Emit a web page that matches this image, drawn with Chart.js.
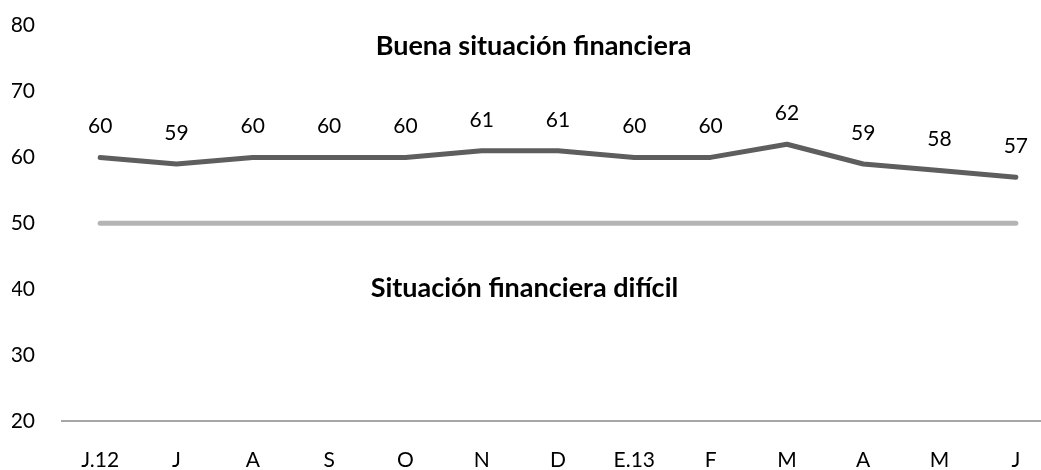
<!DOCTYPE html>
<html>
<head>
<meta charset="utf-8">
<script src="https://cdn.jsdelivr.net/npm/chart.js@4/dist/chart.umd.min.js"></script>
<style>
  html, body { margin: 0; padding: 0; overflow: hidden; background: #fff; }
  canvas { display: block; margin-top: -14px; }
</style>
</head>
<body>
<canvas id="chart" width="1054" height="484"></canvas>
<script>
// datos
const meses = ['J.12', 'J', 'A', 'S', 'O', 'N', 'D', 'E.13', 'F', 'M', 'A', 'M', 'J'];
const indice = [60, 59, 60, 60, 60, 61, 61, 60, 60, 62, 59, 58, 57];
const umbral = [50, 50, 50, 50, 50, 50, 50, 50, 50, 50, 50, 50, 50];
const yTicks = [20, 30, 40, 50, 60, 70, 80];

const textoArriba = 'Buena situación financiera';
const textoAbajo = 'Situación financiera difícil';

const fuente = 'Lato, "Open Sans", sans-serif';

// etiquetas de valor y textos de zona
const etiquetas = {
  id: 'etiquetas',
  afterDatasetsDraw(chart) {
    const ctx = chart.ctx;
    const meta = chart.getDatasetMeta(0);
    const x = chart.scales.x;
    const y = chart.scales.y;
    ctx.save();
    ctx.fillStyle = '#000';
    ctx.textAlign = 'center';
    ctx.textBaseline = 'middle';
    ctx.font = '21px ' + fuente;
    meta.data.forEach((p, i) => {
      ctx.fillText(indice[i], p.x, p.y - 31);
    });
    ctx.font = 'bold 27px ' + fuente;
    ctx.fillText(textoArriba, x.getPixelForValue(5.68), y.getPixelForValue(76.8));
    ctx.fillText(textoAbajo, x.getPixelForValue(5.56), y.getPixelForValue(40.1));
    ctx.restore();
  }
};

const ctx = document.getElementById('chart').getContext('2d');
const chart = new Chart(ctx, {
  type: 'line',
  data: {
    labels: meses,
    datasets: [
      {
        label: 'indice',
        data: indice,
        borderColor: '#5e5e5e',
        borderWidth: 5,
        pointRadius: 0,
        tension: 0,
        borderCapStyle: 'round',
        borderJoinStyle: 'round'
      },
      {
        label: 'umbral',
        data: umbral,
        borderColor: '#b4b4b4',
        borderWidth: 5,
        pointRadius: 0,
        tension: 0,
        borderCapStyle: 'round'
      }
    ]
  },
  options: {
    responsive: false,
    animation: false,
    layout: { padding: { top: 6, left: 12, right: 0, bottom: 0 } },
    plugins: {
      legend: { display: false },
      tooltip: { enabled: false }
    },
    scales: {
      x: {
        offset: true,
        afterFit(axis) { axis.height = 49; },
        grid: { display: false, drawTicks: false },
        border: { display: true, color: '#a6a6a6', width: 2 },
        ticks: { color: '#000', font: { family: fuente, size: 21 }, padding: 27, maxRotation: 0, autoSkip: false }
      },
      y: {
        min: 20,
        max: 80,
        afterBuildTicks(axis) {
          axis.ticks = yTicks.map(v => ({ value: v }));
        },
        afterFit(axis) { axis.width = 50; },
        grid: { display: false, drawTicks: false },
        border: { display: false },
        ticks: { color: '#000', font: { family: fuente, size: 21 }, padding: 27 }
      }
    }
  },
  plugins: [etiquetas]
});
</script>
</body>
</html>
